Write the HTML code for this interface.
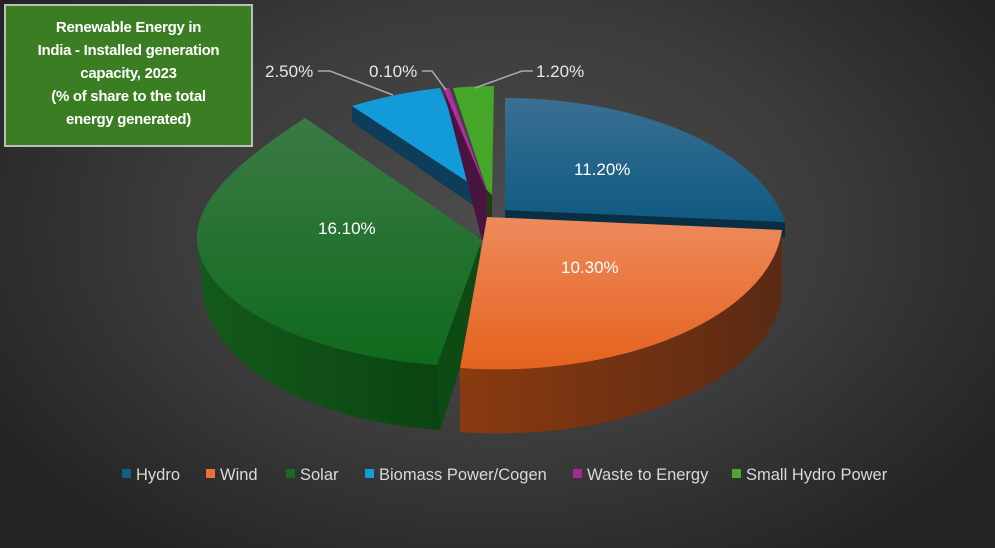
<!DOCTYPE html>
<html><head><meta charset="utf-8"><style>
html,body{margin:0;padding:0}
body{width:995px;height:548px;overflow:hidden;background:radial-gradient(ellipse 600px 400px at 500px 230px,#4d4d4d 0%,#3b3b3b 55%,#232323 100%);font-family:"Liberation Sans",sans-serif;position:relative}
.t{position:absolute;left:4px;top:4px;background:#3a7d22;border:2px solid #bdbdbd;color:#fff;font-weight:bold;font-size:15px;line-height:23px;text-align:center;padding-top:10px;box-sizing:border-box;width:249px;height:143px;letter-spacing:-0.3px}
svg{position:absolute;left:0;top:0}
</style></head><body>
<svg width="995" height="548" viewBox="0 0 995 548">
<defs>
<linearGradient id="gh" x1="0" y1="0" x2="0" y2="1"><stop offset="0" stop-color="#3b6f93"/><stop offset="1" stop-color="#0f5a82"/></linearGradient>
<linearGradient id="gw" x1="0" y1="0" x2="0" y2="1"><stop offset="0" stop-color="#ee8a5c"/><stop offset="1" stop-color="#e5621e"/></linearGradient>
<linearGradient id="gs" x1="0" y1="0" x2="0" y2="1"><stop offset="0" stop-color="#3b7a45"/><stop offset="1" stop-color="#0f6a1c"/></linearGradient>
<linearGradient id="gws" x1="0" y1="0" x2="1" y2="0"><stop offset="0" stop-color="#8a3a10"/><stop offset="1" stop-color="#5a2a14"/></linearGradient>
<linearGradient id="gss" x1="0" y1="0" x2="1" y2="0"><stop offset="0" stop-color="#145a1c"/><stop offset="1" stop-color="#0b4412"/></linearGradient>
</defs>
<!-- solar side -->
<path d="M197,240 C200,300 300,355 437,365 L440,430 C300,420 205,360 202,285 Z" fill="url(#gss)"/>
<polygon points="437,365 480,235 482,300 440,430" fill="#0e4a14"/>
<!-- solar top -->
<path d="M305,118 C240,160 195,200 197,240 C200,300 300,355 437,365 L482,240 Z" fill="url(#gs)"/>
<!-- blue -->
<polygon points="352,106 483,192 483,212 352,122" fill="#0d3d58"/>
<path d="M483,192 L352,106 Q395,93 440,88 Z" fill="#139ad8"/>
<polygon points="443,88 449,88 487,192 487,240 482,240" fill="#4a1440"/>
<polygon points="443,88 449,88 487,192" fill="#b02ea0"/>
<polygon points="487,190 487,250 492,250 492,195" fill="#1e3d12"/>
<path d="M487,190 L453,88 Q473,86 494,86 L492,195 Z" fill="#45a62a"/>
<!-- hydro -->
<path d="M505,210 L785,222 L785,238 L505,220 Z" fill="#0a2f44"/>
<path d="M505,210 L505,98 A285,150 0 0 1 785,222 Z" fill="url(#gh)"/>
<!-- wind -->
<path d="M460,368 A285,150 0 0 0 782,230 L782,298 A285,150 0 0 1 460,432 Z" fill="url(#gws)"/>
<path d="M487,217 L782,230 A285,150 0 0 1 460,368 Z" fill="url(#gw)"/>
<!-- leader lines -->
<polyline points="318,71 330,71 393,95" fill="none" stroke="#aaa" stroke-width="1.5"/>
<polyline points="422,71 432,71 446,90" fill="none" stroke="#aaa" stroke-width="1.5"/>
<polyline points="533,71 522,71 475,88" fill="none" stroke="#aaa" stroke-width="1.5"/>
<g fill="#e8e8e8" font-size="17" font-family="Liberation Sans,sans-serif">
<text x="265" y="77">2.50%</text>
<text x="369" y="77">0.10%</text>
<text x="536" y="77">1.20%</text>
<text x="574" y="175" fill="#fff">11.20%</text>
<text x="561" y="273" fill="#fff">10.30%</text>
<text x="318" y="234" fill="#fff">16.10%</text>
</g>
<g font-size="16.5" fill="#d9d9d9" font-family="Liberation Sans,sans-serif">
<rect x="122" y="469" width="9" height="9" fill="#156082"/><text x="136" y="480">Hydro</text>
<rect x="206" y="469" width="9" height="9" fill="#e97132"/><text x="220" y="480">Wind</text>
<rect x="286" y="469" width="9" height="9" fill="#196b24"/><text x="300" y="480">Solar</text>
<rect x="365" y="469" width="9" height="9" fill="#0f9ed5"/><text x="379" y="480">Biomass Power/Cogen</text>
<rect x="573" y="469" width="9" height="9" fill="#a02b93"/><text x="587" y="480">Waste to Energy</text>
<rect x="732" y="469" width="9" height="9" fill="#4ea72e"/><text x="746" y="480">Small Hydro Power</text>
</g>
</svg>
<div class="t">Renewable Energy in<br>India - Installed generation<br>capacity, 2023<br>(% of share to the total<br>energy generated)</div>
</body></html>
